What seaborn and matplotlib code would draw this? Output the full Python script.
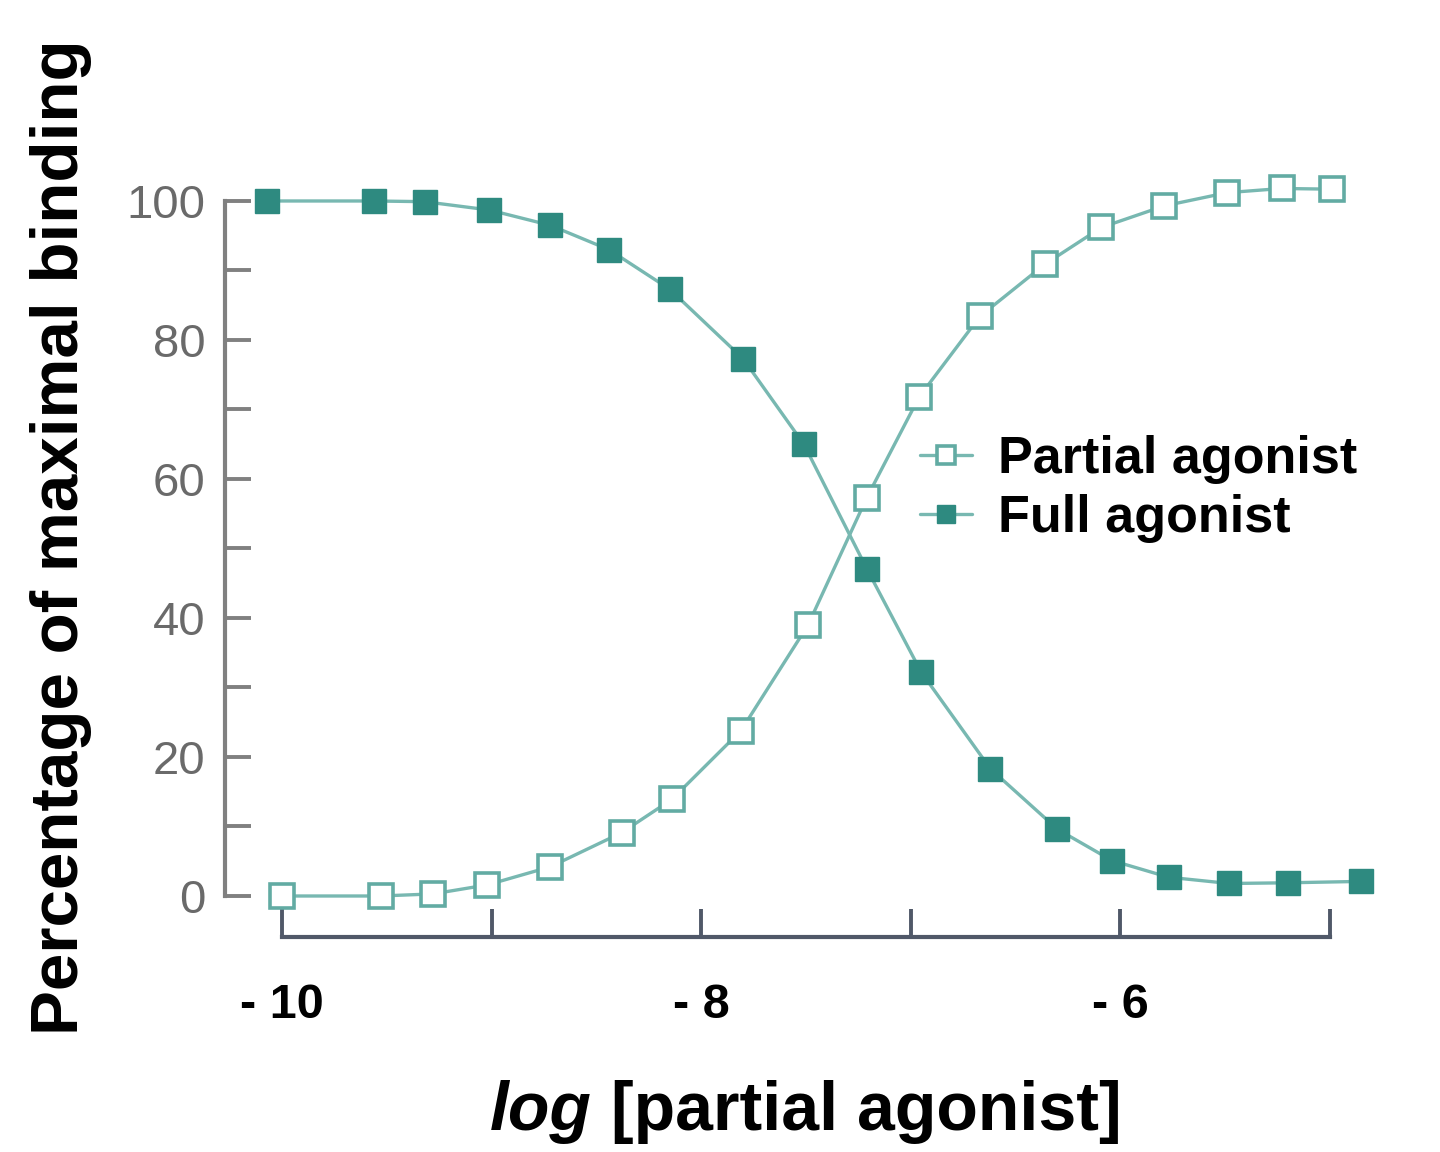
import seaborn as sns
import matplotlib.pyplot as plt

# values
partial_x = [-10.0, -9.53, -9.28, -9.02, -8.72, -8.38, -8.14, -7.81, -7.49,
             -7.21, -6.96, -6.67, -6.36, -6.09, -5.79, -5.49, -5.23, -4.99]
partial_y = [0.0, 0.0, 0.3, 1.6, 4.2, 9.1, 13.9, 23.8, 39.0,
             57.3, 71.8, 83.4, 90.9, 96.2, 99.3, 101.2, 101.8, 101.7]

full_x = [-10.07, -9.56, -9.32, -9.01, -8.72, -8.44, -8.15, -7.80, -7.51,
          -7.21, -6.95, -6.62, -6.30, -6.04, -5.77, -5.48, -5.20, -4.85]
full_y = [100.0, 100.0, 99.9, 98.7, 96.5, 93.0, 87.3, 77.3, 65.0,
          47.1, 32.2, 18.3, 9.6, 5.1, 2.7, 1.8, 1.9, 2.1]

x_ticks = [-10, -9, -8, -7, -6, -5]
x_ticklabels = ['- 10', '', '- 8', '', '- 6', '']
y_ticks = [0, 10, 20, 30, 40, 50, 60, 70, 80, 90, 100]
y_ticklabels = ['0', '', '20', '', '40', '', '60', '', '80', '', '100']

sns.set_style('white')
plt.rcParams['font.family'] = ['Liberation Sans', 'DejaVu Sans']
plt.rcParams['text.color'] = 'black'

teal = '#2e8a80'
line_teal = '#78b8b1'
edge_teal = '#62aba3'

fig = plt.figure(figsize=(14.4, 11.52), dpi=100)
ax = fig.add_axes([0.15625, 0.18663, 0.8021, 0.6745])

sns.lineplot(x=partial_x, y=partial_y, ax=ax, color=line_teal, lw=2.4,
             marker='s', markersize=17, markerfacecolor='white',
             markeredgecolor=edge_teal, markeredgewidth=2.6,
             label='Partial agonist')
sns.lineplot(x=full_x, y=full_y, ax=ax, color=line_teal, lw=2.4,
             marker='s', markersize=17, markerfacecolor=teal,
             markeredgecolor=teal, markeredgewidth=1,
             label='Full agonist')

ax.set_xlim(-10.272, -4.761)
ax.set_ylim(-5.9, 105.9)
ax.set_xticks(x_ticks)
ax.set_xticklabels(x_ticklabels, fontsize=35, fontweight='bold', color='black')
ax.set_yticks(y_ticks)
ax.set_yticklabels(y_ticklabels, fontsize=34, color='#6a6a6a')
ax.tick_params(axis='y', left=True, direction='in', length=19, width=2.8,
               color='#808080', pad=14)
ax.tick_params(axis='x', bottom=True, direction='in', length=20, width=2.8,
               color='#505868', pad=33)

sns.despine(ax=ax, trim=True)
ax.spines['left'].set_linewidth(3)
ax.spines['left'].set_color('#808080')
ax.spines['bottom'].set_linewidth(3)
ax.spines['bottom'].set_color('#505868')

ax.set_xlabel('')
ax.set_ylabel('Percentage of maximal binding', fontsize=48.5,
              fontweight='bold', color='black')
ax.yaxis.set_label_coords(-0.1152, 0.515)

# x label: italic "log" followed by upright text
t1 = fig.text(490 / 1440, 1 - 1130 / 1152, 'log', fontsize=49, color='black',
              fontweight='bold', style='italic', ha='left', va='baseline')
ax.annotate(' [partial agonist]', xy=(1, 0), xycoords=t1, fontsize=49,
            color='black', fontweight='bold', ha='left', va='bottom')

leg = ax.legend(loc='center left', bbox_to_anchor=(920 / 1440, 1 - 489 / 1152),
                bbox_transform=fig.transFigure, frameon=False, fontsize=37.5,
                handlelength=1.0, handletextpad=0.5, labelspacing=0.2,
                borderpad=0, borderaxespad=0, markerscale=0.75)
for txt in leg.get_texts():
    txt.set_fontweight('bold')
    txt.set_color('black')

fig.savefig('out.png', dpi=100, facecolor='white')
